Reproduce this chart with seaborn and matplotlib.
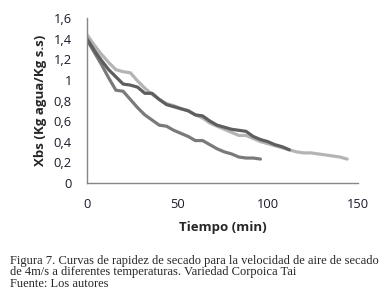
import numpy as np
import pandas as pd
import matplotlib
matplotlib.use('Agg')
import matplotlib.pyplot as plt
import seaborn as sns

# tiempos cada 4 minutos
t_claro = list(range(0, 145, 4))
xbs_claro = [1.44, 1.34, 1.25, 1.17, 1.10, 1.08, 1.07, 0.99, 0.92, 0.86,
             0.81, 0.77, 0.75, 0.72, 0.70, 0.66, 0.63, 0.58, 0.55, 0.52,
             0.49, 0.46, 0.46, 0.43, 0.40, 0.38, 0.36, 0.34, 0.32, 0.30,
             0.29, 0.29, 0.28, 0.27, 0.26, 0.25, 0.23]

t_oscuro = list(range(0, 113, 4))
xbs_oscuro = [1.40, 1.29, 1.19, 1.10, 1.03, 0.96, 0.95, 0.93, 0.87, 0.87,
              0.81, 0.76, 0.74, 0.72, 0.70, 0.66, 0.65, 0.60, 0.56, 0.54,
              0.52, 0.51, 0.50, 0.45, 0.42, 0.40, 0.37, 0.35, 0.32]

t_medio = list(range(0, 97, 4))
xbs_medio = [1.39, 1.27, 1.15, 1.02, 0.90, 0.89, 0.81, 0.73, 0.66, 0.61,
             0.56, 0.55, 0.51, 0.48, 0.45, 0.41, 0.41, 0.37, 0.33, 0.30,
             0.28, 0.25, 0.24, 0.24, 0.23]

yticks = [0, 0.2, 0.4, 0.6, 0.8, 1.0, 1.2, 1.4, 1.6]
ytick_labels = ['0', '0,2', '0,4', '0,6', '0,8', '1', '1,2', '1,4', '1,6']
xticks = [0, 50, 100, 150]

sns.set_style('white')
plt.rcParams['font.family'] = ['Open Sans', 'DejaVu Sans']

fig = plt.figure(figsize=(3.91, 3.07), dpi=100)
ax = fig.add_axes([87/391, 1 - 182.7/307, (358 - 87)/391, (182.7 - 18.3)/307])

sns.lineplot(x=t_claro, y=xbs_claro, color='#b4b4b4', lw=2.3, ax=ax)
sns.lineplot(x=t_medio, y=xbs_medio, color='#7a7a7a', lw=2.3, ax=ax)
sns.lineplot(x=t_oscuro, y=xbs_oscuro, color='#5e5e5e', lw=2.3, ax=ax)

ax.set_xlim(0, 150)
ax.set_ylim(0, 1.6)
ax.set_xticks(xticks)
ax.set_yticks(yticks)
ax.set_yticklabels(ytick_labels)
ax.tick_params(labelsize=9.3, colors='#1a1a2a', length=4, width=0.8)
ax.tick_params(axis='x', pad=7, direction='out', color='#868686')
ax.tick_params(axis='y', pad=7, direction='out', color='#868686')
for s in ['top', 'right']:
    ax.spines[s].set_visible(False)
for s in ['left', 'bottom']:
    ax.spines[s].set_color('#868686')
    ax.spines[s].set_linewidth(1)

ax.set_xlabel('Tiempo (min)', fontsize=9.5, fontweight='bold', labelpad=7)
ax.set_ylabel('Xbs (Kg agua/Kg s.s)', fontsize=9.5, fontweight='bold', labelpad=5)

caption = ('Figura 7. Curvas de rapidez de secado para la velocidad de aire de secado\n'
           'de 4m/s a diferentes temperaturas. Variedad Corpoica Tai\n'
           'Fuente: Los autores')
fig.text(10/391, 1 - 255/307, caption, fontsize=9, family='Liberation Serif',
         va='top', ha='left', linespacing=0.92)

fig.savefig('out.png', dpi=100)
